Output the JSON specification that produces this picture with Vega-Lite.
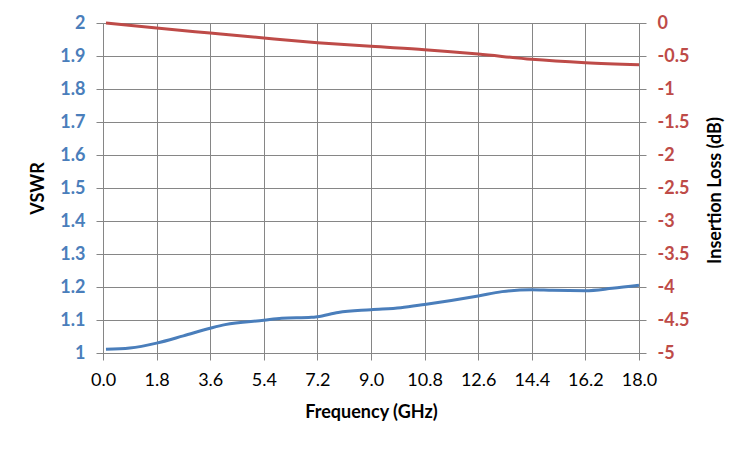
{
  "$schema": "https://vega.github.io/schema/vega-lite/v6.json",
  "width": 536,
  "height": 330,
  "autosize": {"type": "none"},
  "padding": {"left": 103, "top": 23, "right": 111, "bottom": 97},
  "background": "white",
  "datasets": {
    "vswr": [
      {"freq": 0.1, "vswr": 1.011},
      {"freq": 0.9, "vswr": 1.015},
      {"freq": 1.8, "vswr": 1.03},
      {"freq": 2.7, "vswr": 1.052},
      {"freq": 3.6, "vswr": 1.075},
      {"freq": 4.1, "vswr": 1.086},
      {"freq": 5.4, "vswr": 1.099},
      {"freq": 6.0, "vswr": 1.105},
      {"freq": 7.0, "vswr": 1.108},
      {"freq": 7.2, "vswr": 1.11},
      {"freq": 7.9, "vswr": 1.123},
      {"freq": 9.0, "vswr": 1.131},
      {"freq": 10.0, "vswr": 1.137},
      {"freq": 10.8, "vswr": 1.147},
      {"freq": 12.6, "vswr": 1.173},
      {"freq": 13.4, "vswr": 1.186},
      {"freq": 14.4, "vswr": 1.192},
      {"freq": 15.1, "vswr": 1.19},
      {"freq": 16.2, "vswr": 1.189},
      {"freq": 17.1, "vswr": 1.196},
      {"freq": 18.0, "vswr": 1.205}
    ],
    "loss": [
      {"freq": 0.1, "loss": 0.0},
      {"freq": 1.8, "loss": -0.076},
      {"freq": 3.6, "loss": -0.152},
      {"freq": 5.4, "loss": -0.227},
      {"freq": 7.2, "loss": -0.298},
      {"freq": 9.0, "loss": -0.354},
      {"freq": 10.8, "loss": -0.404},
      {"freq": 12.6, "loss": -0.47},
      {"freq": 14.4, "loss": -0.551},
      {"freq": 16.2, "loss": -0.601},
      {"freq": 18.0, "loss": -0.631}
    ]
  },
  "layer": [
    {
      "data": {"name": "vswr"},
      "mark": {"type": "line", "color": "#4A7EBB", "strokeWidth": 3, "interpolate": "monotone"},
      "encoding": {
        "x": {
          "field": "freq", "type": "quantitative",
          "scale": {"domain": [0, 18], "nice": false},
          "axis": {
            "title": "Frequency (GHz)",
            "values": [0, 1.8, 3.6, 5.4, 7.2, 9.0, 10.8, 12.6, 14.4, 16.2, 18.0],
            "format": ".1f",
            "labelColor": "#000000",
            "labelFontWeight": "normal"
          }
        },
        "y": {
          "field": "vswr", "type": "quantitative",
          "scale": {"domain": [1, 2], "nice": false},
          "axis": {
            "title": "VSWR",
            "orient": "left",
            "values": [1, 1.1, 1.2, 1.3, 1.4, 1.5, 1.6, 1.7, 1.8, 1.9, 2],
            "format": ".2~f",
            "labelColor": "#4A7EBB",
            "labelFontWeight": "bold",
            "titlePadding": 12
          }
        }
      }
    },
    {
      "data": {"name": "loss"},
      "mark": {"type": "line", "color": "#BE4B48", "strokeWidth": 3, "interpolate": "monotone"},
      "encoding": {
        "x": {"field": "freq", "type": "quantitative"},
        "y": {
          "field": "loss", "type": "quantitative",
          "scale": {"domain": [-5, 0], "nice": false},
          "axis": {
            "title": "Insertion Loss (dB)",
            "orient": "right",
            "grid": false,
            "titleAngle": 270,
            "titleBaseline": "middle",
            "titleAlign": "center",
            "titleX": 76,
            "titleY": 167,
            "values": [-5, -4.5, -4, -3.5, -3, -2.5, -2, -1.5, -1, -0.5, 0],
            "labelExpr": "replace(format(datum.value, '.1~f'), '\u2212', '-')",
            "labelColor": "#BE4B48",
            "labelFontWeight": "bold"
          }
        }
      }
    }
  ],
  "resolve": {"scale": {"y": "independent"}},
  "config": {
    "view": {"stroke": null},
    "font": "Lato",
    "axis": {
      "grid": true,
      "gridColor": "#868686",
      "gridWidth": 1,
      "gridOpacity": 1,
      "domainColor": "#868686",
      "tickColor": "#868686",
      "tickSize": 7,
      "labelFont": "Lato",
      "labelFontSize": 18,
      "labelPadding": 11,
      "titleFont": "Lato",
      "titleFontSize": 18,
      "titleFontWeight": "bold",
      "titleColor": "#000000",
      "labelFlush": false,
      "labelOverlap": false
    },
    "axisX": {"labelPadding": 11, "titlePadding": 14}
  }
}
